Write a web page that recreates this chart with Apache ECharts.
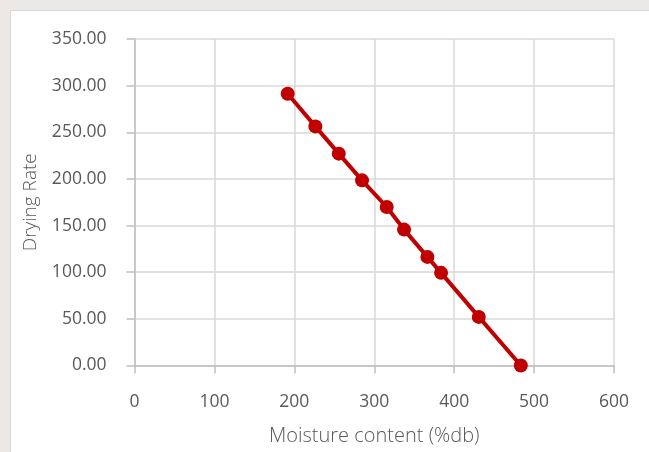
<!DOCTYPE html>
<html>
<head>
<meta charset="utf-8">
<script src="https://cdn.jsdelivr.net/npm/echarts@6/dist/echarts.min.js"></script>
<style>
  html, body { margin: 0; padding: 0; width: 649px; height: 452px; overflow: hidden; background: #ece8e6; }
  #box { position: absolute; left: 10px; top: 10px; width: 660px; height: 460px; background: #ffffff; border: 1.5px solid #d9d9d9; box-sizing: border-box; }
  #chart { position: absolute; left: 0; top: 0; width: 649px; height: 452px; }
</style>
</head>
<body>
<div id="box"></div>
<div id="chart"></div>
<script>
const moistureContent = [191.7, 226.3, 255.6, 284.7, 315.6, 337.3, 366.5, 383.6, 430.8, 483.4];
const dryingRate = [291.3, 256.3, 227.1, 198.5, 169.9, 145.7, 116.4, 99.3, 52.1, 0.0];
const xAxisTitle = 'Moisture content (%db)';
const yAxisTitle = 'Drying Rate';

const chart = echarts.init(document.getElementById('chart'), null, { renderer: 'canvas' });
const font = "'Open Sans', 'Noto Sans', sans-serif";
const textColor = '#595959';
chart.setOption({
  backgroundColor: 'transparent',
  animation: false,
  grid: { left: 134.5, right: 35, top: 39, bottom: 86.5, containLabel: false },
  xAxis: {
    type: 'value', min: 0, max: 600, interval: 100,
    name: xAxisTitle, nameLocation: 'middle', nameGap: 61,
    nameTextStyle: { color: textColor, fontSize: 20, fontFamily: font, fontWeight: 300 },
    axisLine: { show: true, lineStyle: { color: '#bfbfbf', width: 1.5 } },
    axisTick: { show: true, length: 8, lineStyle: { color: '#bfbfbf', width: 1.5 } },
    axisLabel: { color: textColor, fontSize: 17.5, fontFamily: font, fontWeight: 'normal', margin: 28 },
    splitLine: { show: true, lineStyle: { color: '#d9d9d9', width: 1.5 } }
  },
  yAxis: {
    type: 'value', min: 0, max: 350, interval: 50,
    name: yAxisTitle, nameLocation: 'middle', nameGap: 94, nameRotate: 90,
    nameTextStyle: { color: textColor, fontSize: 19, fontFamily: font, fontWeight: 300 },
    axisLine: { show: true, lineStyle: { color: '#bfbfbf', width: 1.5 } },
    axisTick: { show: true, length: 8, lineStyle: { color: '#bfbfbf', width: 1.5 } },
    axisLabel: { color: textColor, fontSize: 17.5, fontFamily: font, fontWeight: 'normal', margin: 28,
      formatter: v => v.toFixed(2) },
    splitLine: { show: true, lineStyle: { color: '#d9d9d9', width: 1.5 } }
  },
  series: [{
    type: 'line',
    data: moistureContent.map((x, i) => [x, dryingRate[i]]),
    symbol: 'circle', symbolSize: 14,
    lineStyle: { color: '#c00000', width: 4 },
    itemStyle: { color: '#c00000' }
  }]
});
</script>
</body>
</html>
